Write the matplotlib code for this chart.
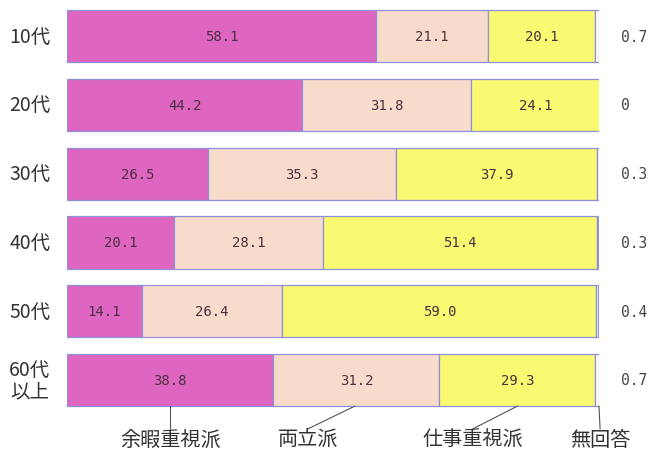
import matplotlib
matplotlib.use("Agg")
import matplotlib.pyplot as plt

plt.rcParams['font.family'] = ['Noto Sans CJK JP', 'DejaVu Sans']

# Age groups and response shares (%)
ages = ["10代", "20代", "30代", "40代", "50代", "60代\n以上"]
leisure = [58.1, 44.2, 26.5, 20.1, 14.1, 38.8]      # 余暇重視派
balance = [21.1, 31.8, 35.3, 28.1, 26.4, 31.2]      # 両立派
work = [20.1, 24.1, 37.9, 51.4, 59.0, 29.3]         # 仕事重視派
no_answer = [0.7, 0.0, 0.3, 0.3, 0.4, 0.7]          # 無回答
no_answer_labels = ["0.7", "0", "0.3", "0.3", "0.4", "0.7"]
series_names = ["余暇重視派", "両立派", "仕事重視派", "無回答"]

colors = ["#de66c0", "#f7dccc", "#fafa72", "#ffffff"]
edge = "#9090d8"
num_color = "#4a3040"

fig = plt.figure(figsize=(6.55, 4.52), dpi=100)
ax = fig.add_axes([67 / 655, 0.081, (599 - 67) / 655, 0.913])

series = [leisure, balance, work, no_answer]
y = list(range(len(ages)))
left = [0.0] * len(ages)
bar_h = 0.76
for k, vals in enumerate(series):
    ax.barh(y, vals, left=left, height=bar_h, color=colors[k],
            edgecolor=edge, linewidth=0.9)
    if k < 3:
        for i, v in enumerate(vals):
            ax.text(left[i] + v / 2, y[i], f"{v:.1f}", ha="center", va="center",
                    fontsize=10, family="DejaVu Sans Mono", color=num_color)
    left = [l + v for l, v in zip(left, vals)]

total = left
ax.set_xlim(0, 100)
ax.set_ylim(5.5, -0.5)
ax.axis("off")

# Age labels on the left
for i, lab in enumerate(ages):
    ax.text(-7.0, y[i], lab, ha="center", va="center", fontsize=14,
            color="#333333", linespacing=1.0)

# No-answer values on the right
for i, lab in enumerate(no_answer_labels):
    ax.text(104.2, y[i], lab, ha="left", va="center", fontsize=10.5,
            family="DejaVu Sans Mono", color="#444444")

# Series names below the last bar, with leader lines
last = len(ages) - 1
bottom = y[last] + bar_h / 2
seg_starts = [0, leisure[last], leisure[last] + balance[last],
              leisure[last] + balance[last] + work[last]]
anchors = [seg_starts[0] + leisure[last] / 2,
           seg_starts[1] + balance[last] * 0.49,
           seg_starts[2] + work[last] * 0.5,
           total[last]]
text_x = [anchors[0], 45.3, 76.3, 100.2]
line_color = "#555555"
for name, ax_x, tx in zip(series_names, anchors, text_x):
    ax.plot([ax_x, tx], [bottom, bottom + 0.33], color=line_color,
            lw=0.8, clip_on=False)
    ax.text(tx, bottom + 0.49, name, ha="center", va="center", fontsize=14.5,
            color="#333333")

fig.savefig("out.png", dpi=100, facecolor="white")
